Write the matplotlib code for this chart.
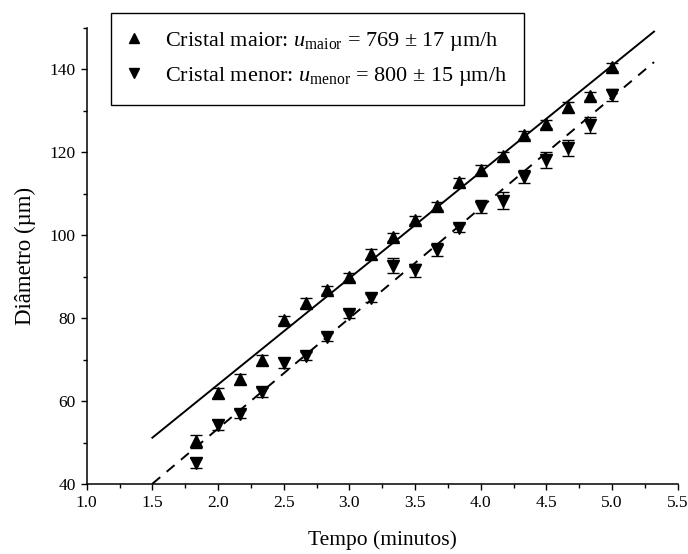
import matplotlib
matplotlib.use("Agg")
import matplotlib.pyplot as plt
import numpy as np
from matplotlib.lines import Line2D
from matplotlib.ticker import MultipleLocator, FormatStrFormatter

plt.rcParams['font.family'] = ['Liberation Serif', 'DejaVu Serif']
plt.rcParams['mathtext.fontset'] = 'custom'
plt.rcParams['mathtext.rm'] = 'Liberation Serif'
plt.rcParams['mathtext.it'] = 'Liberation Serif:italic'

# time in minutes (one reading every 10 s)
tempo = [1.833, 2.0, 2.167, 2.333, 2.5, 2.667, 2.833, 3.0, 3.167, 3.333,
         3.5, 3.667, 3.833, 4.0, 4.167, 4.333, 4.5, 4.667, 4.833, 5.0]

# larger crystal
d_maior = [50.3, 61.9, 65.3, 70.0, 79.6, 83.6, 86.8, 89.9, 95.5, 99.5,
           103.7, 107.1, 112.7, 115.8, 119.1, 124.2, 126.8, 130.8, 133.6, 140.5]
err_maior = [1.5, 1.2, 1.2, 1.2, 1.0, 1.2, 1.0, 1.0, 1.2, 1.0,
             1.0, 1.0, 1.0, 1.0, 1.0, 1.0, 1.0, 1.2, 1.0, 1.0]

# smaller crystal
d_menor = [45.1, 54.3, 56.9, 62.1, 69.2, 70.9, 75.4, 81.0, 84.8, 92.6,
           91.5, 96.5, 101.7, 106.9, 108.3, 114.1, 118.1, 121.0, 126.6, 133.8]
err_menor = [1.2, 1.2, 1.0, 1.0, 1.2, 1.0, 1.0, 1.0, 1.0, 1.8,
             1.5, 1.5, 1.0, 1.5, 2.0, 1.5, 2.0, 2.0, 2.0, 1.5]

# linear fits: slope (um/min), intercept (um)
fit_maior = (25.62, 12.77)
fit_menor = (26.60, 0.20)
fit_x = [1.5, 5.32]

lab_maior = r'Cristal maior: $u_{\mathrm{maior}}$ = 769 ± 17 µm/h'
lab_menor = r'Cristal menor: $u_{\mathrm{menor}}$ = 800 ± 15 µm/h'

fig = plt.figure(figsize=(6.88, 5.54), dpi=100)
ax = fig.add_axes([0.126, 0.126, 0.859, 0.824])

ax.errorbar(tempo, d_maior, yerr=err_maior, fmt='^', color='k', ms=8,
            elinewidth=1, capsize=4, capthick=1)
ax.errorbar(tempo, d_menor, yerr=err_menor, fmt='v', color='k', ms=8,
            elinewidth=1, capsize=4, capthick=1)

fx = np.array(fit_x)
ax.plot(fx, fit_maior[0] * fx + fit_maior[1], color='k', lw=1.4)
ax.plot(fx, fit_menor[0] * fx + fit_menor[1], color='k', lw=1.4,
        ls=(0, (5.3, 4.3)))

ax.set_xlim(1.0, 5.5)
ax.set_ylim(40, 150)
ax.xaxis.set_major_locator(MultipleLocator(0.5))
ax.xaxis.set_minor_locator(MultipleLocator(0.25))
ax.xaxis.set_major_formatter(FormatStrFormatter('%.1f'))
ax.yaxis.set_major_locator(MultipleLocator(20))
ax.yaxis.set_minor_locator(MultipleLocator(10))

for s in ['top', 'right']:
    ax.spines[s].set_visible(False)
for s in ['left', 'bottom']:
    ax.spines[s].set_linewidth(1.1)
ax.tick_params(which='major', direction='out', length=4.5, width=1, labelsize=12.5)
ax.tick_params(which='minor', direction='out', length=3, width=1)

ax.set_xlabel('Tempo (minutos)', fontsize=15.5, labelpad=14)
ax.set_ylabel('Diâmetro (µm)', fontsize=16.5, labelpad=10)

handles = [Line2D([], [], marker='^', ls='none', color='k', ms=7.5),
           Line2D([], [], marker='v', ls='none', color='k', ms=7.5)]
leg = ax.legend(handles, [lab_maior, lab_menor], loc='upper left',
                bbox_to_anchor=(0.041, 1.032), borderaxespad=0,
                fontsize=16, frameon=True,
                fancybox=False, edgecolor='k', framealpha=1,
                handlelength=0.6, handletextpad=1.1, borderpad=0.75,
                labelspacing=0.55)
leg.get_frame().set_linewidth(1)

fig.savefig('out.png', dpi=100)
